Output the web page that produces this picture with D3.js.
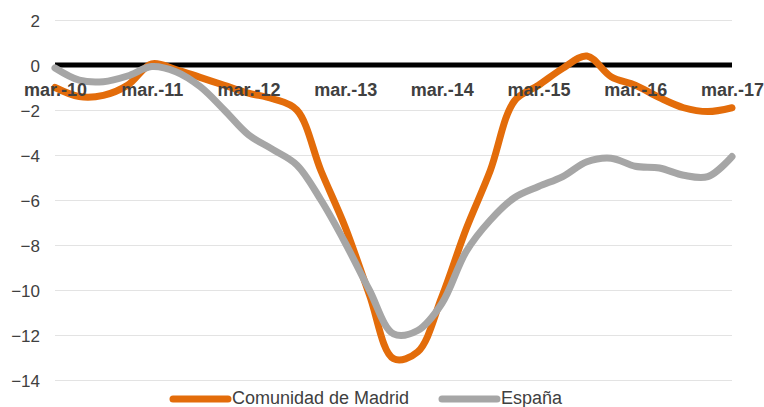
<!DOCTYPE html>
<html>
<head>
<meta charset="utf-8">
<script src="https://cdn.jsdelivr.net/npm/d3@7"></script>
<style>
  body { margin: 0; background: #fff; }
  svg { display: block; font-family: "Liberation Sans", Arial, sans-serif; }
</style>
</head>
<body>
<svg id="chart" width="764" height="407"></svg>
<script>
// quarterly, mar.-10 .. mar.-17
const quarters = d3.range(29);
const tickLabels = ['mar.-10', 'mar.-11', 'mar.-12', 'mar.-13', 'mar.-14', 'mar.-15', 'mar.-16', 'mar.-17'];
const yTicks = [2, 0, -2, -4, -6, -8, -10, -12, -14];

const madrid = [-1.0, -1.4, -1.35, -0.9, 0.05, -0.2, -0.55, -0.9,
  -1.25, -1.5, -2.0, -4.7, -7.2, -10.2, -13.05, -12.75,
  -10.3, -7.3, -4.7, -1.6, -0.9, -0.15, 0.4, -0.52,
  -0.9, -1.45, -1.9, -2.07, -1.9];
const espana = [-0.13, -0.67, -0.74, -0.49, -0.07, -0.3, -0.96, -2.0,
  -3.1, -3.75, -4.44, -6.0, -7.9, -10.0, -11.95, -11.8,
  -10.6, -8.3, -6.9, -5.9, -5.4, -4.96, -4.3, -4.14,
  -4.5, -4.58, -4.9, -4.96, -4.07];

const series = [
  { name: 'Comunidad de Madrid', values: madrid, color: '#e36c0a' },
  { name: 'España', values: espana, color: '#a6a6a6' },
];

const svg = d3.select('#chart');
const plotLeft = 55, plotRight = 732, plotTop = 20, plotBottom = 380;

const x = d3.scaleLinear().domain([0, 28]).range([plotLeft, plotRight]);
const y = d3.scaleLinear().domain([-14, 2]).range([plotBottom, plotTop]);

// gridlines
svg.append('g')
  .selectAll('line')
  .data(yTicks.filter(d => d !== 0))
  .enter().append('line')
  .attr('x1', plotLeft).attr('x2', plotRight)
  .attr('y1', d => y(d) + 0.5).attr('y2', d => y(d) + 0.5)
  .attr('stroke', '#e3e3e3')
  .attr('stroke-width', 1);

// y axis labels
const yAxis = d3.axisLeft(y).tickValues(yTicks).tickSize(0).tickPadding(15);
const yAxisNode = svg.append('g')
  .attr('transform', `translate(${plotLeft},0)`)
  .call(yAxis);
yAxisNode.select('.domain').remove();
yAxisNode.selectAll('text')
  .attr('font-size', 17)
  .attr('font-family', '"Liberation Sans", Arial, sans-serif')
  .attr('fill', '#404040')
  .attr('dy', '0.4em');

// zero line
svg.append('line')
  .attr('x1', plotLeft).attr('x2', plotRight)
  .attr('y1', y(0)).attr('y2', y(0))
  .attr('stroke', '#000')
  .attr('stroke-width', 5);

// lines
const line = d3.line()
  .x((d, i) => x(quarters[i]))
  .y(d => y(d))
  .curve(d3.curveCatmullRom.alpha(0.5));

svg.append('g')
  .selectAll('path')
  .data(series)
  .enter().append('path')
  .attr('d', d => line(d.values))
  .attr('fill', 'none')
  .attr('stroke', d => d.color)
  .attr('stroke-width', 7)
  .attr('stroke-linecap', 'round')
  .attr('stroke-linejoin', 'round');

// x axis labels, one per year (drawn over the lines)
const xAxis = d3.axisBottom(x)
  .tickValues(d3.range(0, 29, 4))
  .tickSize(0)
  .tickPadding(0)
  .tickFormat((d, i) => tickLabels[i]);
const xAxisNode = svg.append('g')
  .attr('transform', `translate(0,${y(0)})`)
  .call(xAxis);
xAxisNode.select('.domain').remove();
xAxisNode.selectAll('text')
  .attr('y', 0)
  .attr('dy', 31)
  .attr('font-size', 18)
  .attr('font-weight', 'bold')
  .attr('font-family', '"Liberation Sans", Arial, sans-serif')
  .attr('fill', '#404040');

// legend
const legendX = [173, 442];
const legend = svg.append('g')
  .selectAll('g')
  .data(series)
  .enter().append('g')
  .attr('transform', (d, i) => `translate(${legendX[i]},399)`);
legend.append('line')
  .attr('x1', 0).attr('x2', 55)
  .attr('stroke', d => d.color)
  .attr('stroke-width', 7)
  .attr('stroke-linecap', 'round');
legend.append('text')
  .attr('x', 59)
  .attr('y', 5)
  .attr('font-size', 18)
  .attr('fill', '#404040')
  .text(d => d.name);
</script>
</body>
</html>
